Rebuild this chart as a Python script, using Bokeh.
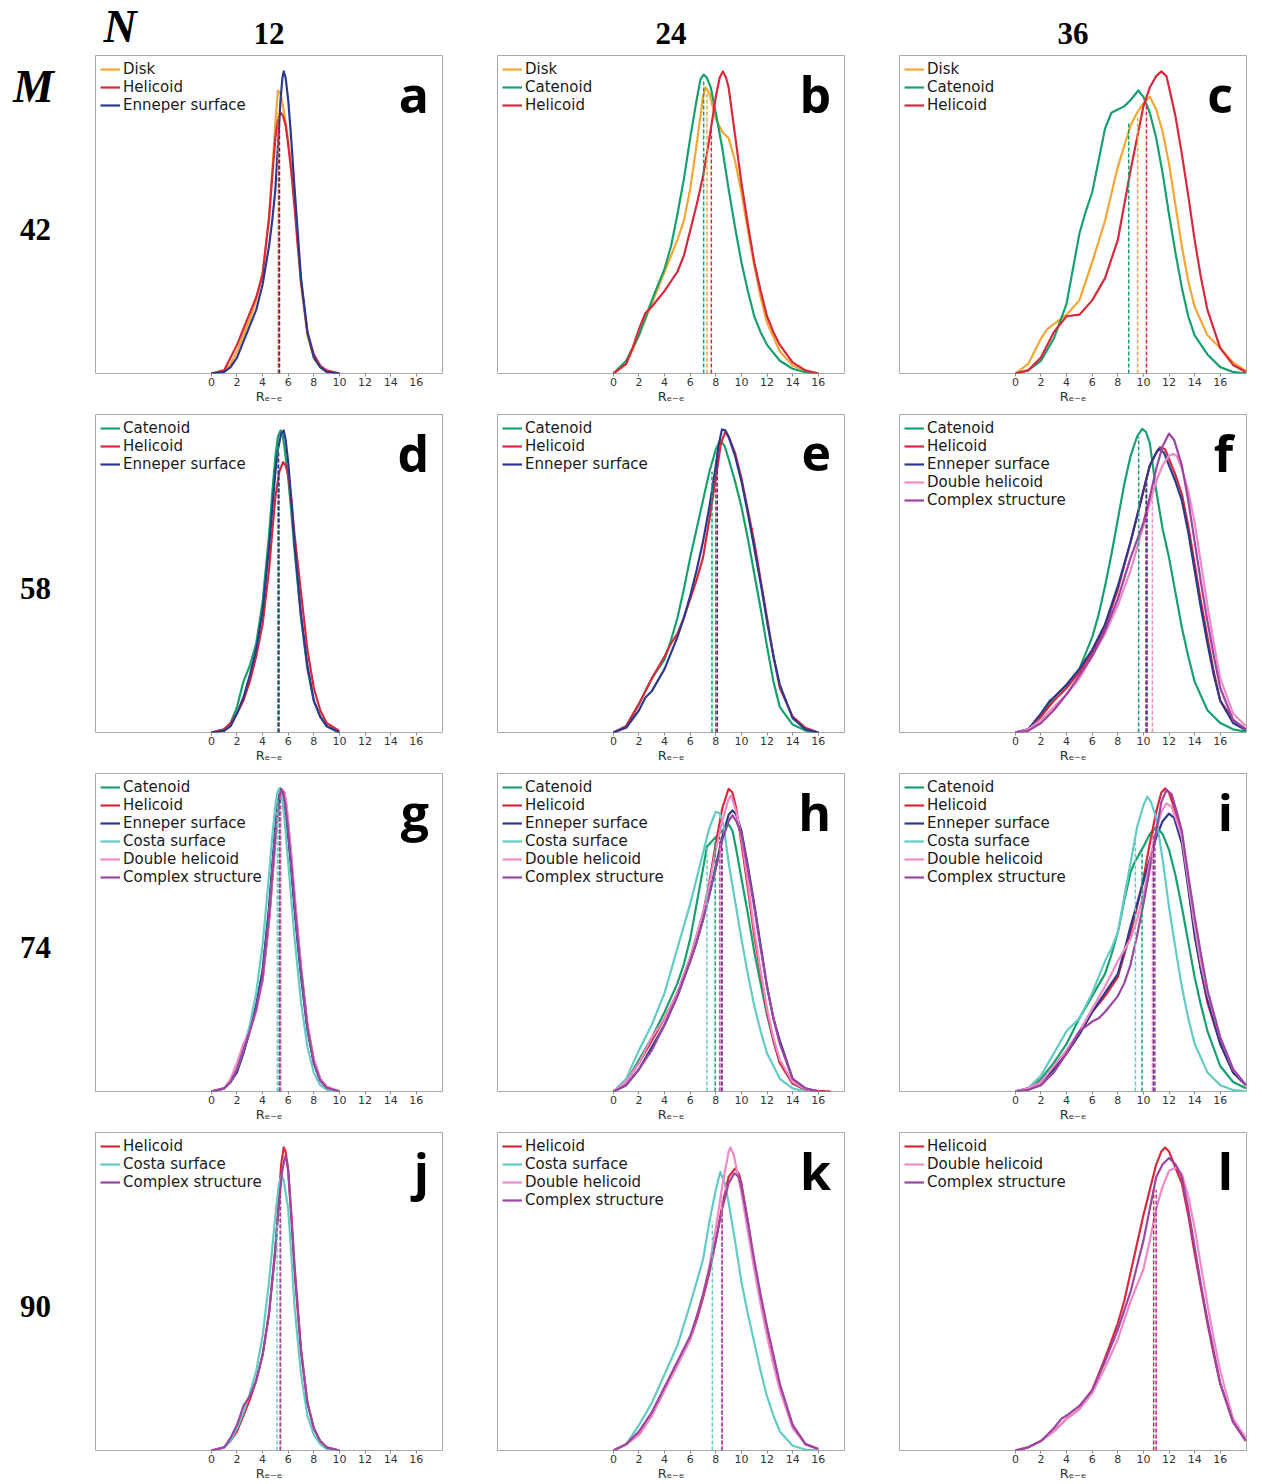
from bokeh.plotting import figure
from bokeh.models import Range1d, FixedTicker, Label, Legend, LegendItem
from bokeh.layouts import row, column
from bokeh.embed import file_html
from bokeh.resources import INLINE

# ---------------- data (y = share of panel height) ----------------
N_LABELS = ["12", "24", "36"]
M_LABELS = ["42", "58", "74", "90"]
TICKS = [0, 2, 4, 6, 8, 10, 12, 14, 16]

# panel a  (N=12, M=42)
A_DISK = [(0,0),(1,0.01),(1.5,0.03),(2,0.07),(2.5,0.12),(3,0.17),(3.5,0.23),(4,0.32),(4.5,0.48),(4.75,0.63),(5,0.79),(5.2,0.89),(5.4,0.88),(5.6,0.84),(5.8,0.79),(6,0.73),(6.25,0.65),(6.5,0.55),(6.75,0.41),(7,0.28),(7.5,0.12),(8,0.05),(8.5,0.02),(9,0.005),(10,0)]
A_HELICOID = [(0,0),(1,0.01),(1.5,0.05),(2,0.09),(2.5,0.14),(3,0.19),(3.5,0.24),(4,0.31),(4.5,0.49),(4.75,0.62),(5,0.74),(5.2,0.80),(5.4,0.82),(5.6,0.81),(5.8,0.78),(6,0.72),(6.25,0.63),(6.5,0.52),(6.75,0.40),(7,0.29),(7.5,0.13),(8,0.06),(8.5,0.025),(9,0.01),(10,0)]
A_ENNEPER = [(0,0),(1,0.005),(1.5,0.02),(2,0.05),(2.5,0.10),(3,0.15),(3.5,0.20),(4,0.28),(4.5,0.40),(4.75,0.48),(5,0.58),(5.2,0.72),(5.4,0.86),(5.55,0.93),(5.65,0.95),(5.8,0.93),(6,0.86),(6.25,0.73),(6.5,0.58),(6.75,0.44),(7,0.30),(7.5,0.13),(8,0.05),(8.5,0.02),(9,0.005),(10,0)]
A_MED = [5.22, 5.27, 5.32]
A_TOP = [0.82, 0.80, 0.80]

# panel b  (N=24, M=42)
B_DISK = [(0,0),(1,0.03),(2,0.12),(3,0.22),(4,0.32),(4.5,0.37),(5,0.42),(5.5,0.48),(6,0.58),(6.5,0.72),(7,0.87),(7.2,0.90),(7.5,0.88),(8,0.80),(8.5,0.76),(9,0.74),(9.5,0.67),(10,0.57),(10.5,0.45),(11,0.34),(11.5,0.24),(12,0.16),(13,0.07),(14,0.025),(15,0.008),(16,0)]
B_CATENOID = [(0,0),(1,0.04),(2,0.12),(3,0.23),(3.5,0.28),(4,0.33),(4.5,0.40),(5,0.50),(5.5,0.61),(6,0.74),(6.5,0.86),(6.8,0.925),(7.05,0.94),(7.3,0.93),(7.6,0.90),(8,0.82),(8.5,0.71),(9,0.58),(9.5,0.46),(10,0.35),(10.5,0.26),(11,0.18),(11.5,0.13),(12,0.09),(13,0.04),(14,0.015),(15,0.004),(16,0)]
B_HELICOID = [(0,0),(1,0.03),(1.5,0.08),(2,0.14),(2.5,0.19),(3,0.21),(4,0.26),(5,0.32),(5.5,0.37),(6,0.45),(6.5,0.53),(7,0.62),(7.5,0.74),(8,0.87),(8.3,0.93),(8.55,0.95),(8.8,0.93),(9,0.90),(9.5,0.75),(10,0.60),(10.5,0.47),(11,0.35),(11.5,0.26),(12,0.18),(12.5,0.13),(13,0.09),(14,0.035),(15,0.01),(16,0)]
B_MED = [7.31, 7.05, 7.65]
B_TOP = [0.88, 0.92, 0.78]

# panel c  (N=36, M=42)
C_DISK = [(0,0),(1,0.03),(2,0.11),(2.5,0.14),(3,0.155),(4,0.185),(5,0.23),(6,0.35),(7,0.48),(8,0.65),(9,0.78),(9.5,0.82),(10,0.85),(10.5,0.87),(11,0.83),(11.5,0.76),(12,0.66),(12.5,0.53),(13,0.40),(13.5,0.29),(14,0.21),(15,0.12),(16,0.08),(17,0.035),(18,0.008)]
C_CATENOID = [(0,0),(1,0.01),(2,0.04),(3,0.11),(4,0.22),(4.5,0.33),(5,0.44),(5.5,0.51),(6,0.57),(6.5,0.67),(7,0.77),(7.5,0.82),(8,0.83),(8.5,0.84),(9,0.86),(9.6,0.89),(10,0.87),(10.5,0.82),(11,0.74),(11.5,0.63),(12,0.50),(12.5,0.38),(13,0.27),(13.5,0.18),(14,0.12),(15,0.06),(16,0.02),(17,0.005),(18,0)]
C_HELICOID = [(0,0),(1,0.01),(2,0.05),(3,0.13),(4,0.18),(5,0.185),(6,0.23),(7,0.30),(8,0.42),(9,0.64),(10,0.84),(10.5,0.90),(11,0.935),(11.4,0.95),(11.8,0.935),(12,0.90),(12.5,0.81),(13,0.69),(13.5,0.56),(14,0.42),(14.5,0.30),(15,0.20),(16,0.08),(17,0.027),(18,0.005)]
C_MED = [9.55, 8.85, 10.24]
C_TOP = [0.81, 0.79, 0.85]

# panel d  (N=12, M=58)
D_CATENOID = [(0,0),(1,0.01),(1.5,0.03),(2,0.08),(2.5,0.16),(3,0.21),(3.5,0.28),(4,0.41),(4.5,0.62),(4.75,0.75),(5,0.87),(5.2,0.93),(5.4,0.95),(5.55,0.94),(5.7,0.90),(6,0.80),(6.25,0.69),(6.5,0.57),(7,0.36),(7.5,0.20),(8,0.10),(8.5,0.05),(9,0.02),(10,0)]
D_HELICOID = [(0,0),(1,0.01),(1.5,0.03),(2,0.06),(2.5,0.10),(3,0.16),(3.5,0.24),(4,0.34),(4.5,0.51),(4.75,0.63),(5,0.74),(5.3,0.82),(5.6,0.85),(5.8,0.84),(6,0.81),(6.25,0.73),(6.5,0.62),(6.75,0.53),(7,0.44),(7.5,0.26),(8,0.14),(8.5,0.07),(9,0.03),(10,0.005)]
D_ENNEPER = [(0,0),(1,0.005),(1.5,0.02),(2,0.06),(2.5,0.11),(3,0.18),(3.5,0.26),(4,0.38),(4.5,0.58),(4.75,0.70),(5,0.82),(5.2,0.89),(5.45,0.94),(5.65,0.95),(5.8,0.92),(6,0.85),(6.25,0.73),(6.5,0.59),(7,0.37),(7.5,0.21),(8,0.10),(8.5,0.05),(9,0.02),(10,0)]
D_MED = [5.2, 5.28, 5.25]
D_TOP = [0.90, 0.80, 0.88]

# panel e  (N=24, M=58)
E_CATENOID = [(0,0),(1,0.02),(2,0.09),(3,0.17),(4,0.23),(4.5,0.29),(5,0.36),(5.5,0.45),(6,0.55),(6.5,0.64),(7,0.73),(7.5,0.82),(8,0.89),(8.35,0.92),(8.7,0.90),(9,0.86),(9.5,0.79),(10,0.71),(10.5,0.61),(11,0.50),(11.5,0.39),(12,0.27),(12.5,0.16),(13,0.08),(14,0.025),(15,0.006),(16,0)]
E_HELICOID = [(0,0),(1,0.02),(2,0.09),(3,0.17),(4,0.24),(4.5,0.28),(5,0.31),(5.5,0.36),(6,0.42),(6.5,0.48),(7,0.55),(7.5,0.67),(8,0.80),(8.4,0.91),(8.74,0.945),(9,0.93),(9.5,0.88),(10,0.80),(10.5,0.70),(11,0.60),(11.5,0.48),(12,0.36),(12.5,0.24),(13,0.14),(14,0.05),(15,0.015),(16,0)]
E_ENNEPER = [(0,0),(1,0.015),(2,0.07),(2.5,0.11),(3,0.13),(4,0.20),(5,0.30),(5.5,0.36),(6,0.43),(6.5,0.51),(7,0.60),(7.5,0.71),(8,0.84),(8.25,0.91),(8.48,0.953),(8.75,0.95),(9,0.93),(9.5,0.87),(10,0.79),(10.5,0.69),(11,0.58),(11.5,0.47),(12,0.35),(12.5,0.24),(13,0.15),(14,0.045),(15,0.01),(16,0)]
E_MED = [7.7, 8.0, 8.11]
E_TOP = [0.82, 0.80, 0.88]

# panel f  (N=36, M=58)
F_CATENOID = [(0,0),(1,0.01),(2,0.05),(3,0.11),(4,0.15),(5,0.20),(6,0.30),(6.5,0.37),(7,0.46),(7.5,0.56),(8,0.67),(8.5,0.78),(9,0.87),(9.5,0.93),(9.9,0.955),(10.2,0.945),(10.5,0.91),(11,0.76),(11.5,0.64),(12,0.55),(12.5,0.44),(13,0.33),(13.5,0.24),(14,0.16),(15,0.07),(16,0.03),(17,0.01),(18,0.003)]
F_HELICOID = [(0,0),(1,0.01),(2,0.05),(3,0.10),(4,0.14),(5,0.19),(6,0.25),(7,0.33),(8,0.45),(9,0.60),(10,0.76),(10.5,0.84),(11,0.88),(11.3,0.897),(11.7,0.89),(12,0.86),(12.5,0.81),(13,0.75),(13.5,0.65),(14,0.53),(14.5,0.41),(15,0.30),(15.5,0.19),(16,0.10),(17,0.04),(18,0.01)]
F_ENNEPER = [(0,0),(1,0.01),(2,0.06),(2.7,0.10),(3,0.11),(4,0.15),(5,0.20),(6,0.26),(7,0.34),(8,0.46),(9,0.60),(10,0.76),(10.5,0.84),(11,0.88),(11.2,0.892),(11.6,0.88),(12,0.84),(12.5,0.79),(13,0.73),(13.5,0.63),(14,0.51),(14.5,0.39),(15,0.28),(15.5,0.18),(16,0.10),(17,0.03),(18,0.008)]
F_DOUBLE = [(0,0),(1,0.01),(2,0.04),(3,0.08),(4,0.12),(5,0.17),(6,0.24),(7,0.31),(8,0.40),(9,0.51),(10,0.65),(11,0.79),(11.5,0.84),(12,0.87),(12.3,0.876),(12.6,0.87),(13,0.83),(13.5,0.76),(14,0.66),(14.5,0.53),(15,0.40),(15.5,0.28),(16,0.17),(17,0.06),(18,0.02)]
F_COMPLEX = [(0,0),(1,0.005),(2,0.03),(3,0.07),(4,0.12),(5,0.18),(6,0.24),(7,0.32),(8,0.42),(9,0.55),(10,0.66),(10.5,0.74),(11,0.83),(11.5,0.90),(12,0.94),(12.4,0.92),(13,0.84),(13.5,0.73),(14,0.60),(14.5,0.47),(15,0.35),(15.5,0.24),(16,0.14),(17,0.04),(18,0.01)]
F_MED = [9.63, 10.2, 10.25, 10.7, 10.3]
F_TOP = [0.93, 0.78, 0.80, 0.74, 0.70]

# panel g  (N=12, M=74)
G_CATENOID = [(0,0),(1,0.01),(1.5,0.03),(2,0.07),(2.5,0.13),(3,0.20),(3.5,0.27),(4,0.38),(4.5,0.58),(4.75,0.71),(5,0.83),(5.2,0.91),(5.4,0.953),(5.55,0.94),(5.7,0.91),(6,0.80),(6.25,0.69),(6.5,0.57),(6.75,0.46),(7,0.36),(7.5,0.19),(8,0.09),(8.5,0.035),(9,0.012),(10,0)]
G_HELICOID = [(0,0),(1,0.01),(1.5,0.03),(2,0.07),(2.5,0.14),(3,0.20),(3.5,0.26),(4,0.35),(4.5,0.53),(4.75,0.66),(5,0.79),(5.25,0.90),(5.5,0.95),(5.7,0.94),(5.85,0.90),(6,0.84),(6.25,0.73),(6.5,0.61),(6.75,0.50),(7,0.39),(7.5,0.21),(8,0.10),(8.5,0.04),(9,0.015),(10,0)]
G_ENNEPER = [(0,0),(1,0.01),(1.5,0.03),(2,0.06),(2.5,0.12),(3,0.19),(3.5,0.27),(4,0.38),(4.5,0.57),(4.75,0.70),(5,0.83),(5.2,0.91),(5.45,0.95),(5.6,0.94),(5.75,0.91),(6,0.81),(6.25,0.70),(6.5,0.58),(6.75,0.47),(7,0.37),(7.5,0.20),(8,0.09),(8.5,0.035),(9,0.012),(10,0)]
G_COSTA = [(0,0),(1,0.01),(1.5,0.03),(2,0.07),(2.5,0.13),(3,0.21),(3.5,0.31),(4,0.46),(4.5,0.68),(4.75,0.80),(5,0.90),(5.15,0.94),(5.3,0.953),(5.5,0.93),(5.7,0.86),(6,0.72),(6.25,0.60),(6.5,0.48),(6.75,0.38),(7,0.28),(7.5,0.14),(8,0.06),(8.5,0.02),(9,0.006),(10,0)]
G_DOUBLE = [(0,0),(1,0.01),(1.5,0.04),(2,0.09),(2.5,0.15),(3,0.19),(3.5,0.25),(4,0.35),(4.5,0.54),(4.75,0.67),(5,0.80),(5.25,0.90),(5.5,0.95),(5.7,0.94),(5.85,0.91),(6,0.85),(6.25,0.74),(6.5,0.62),(6.75,0.50),(7,0.39),(7.5,0.21),(8,0.10),(8.5,0.04),(9,0.015),(10,0)]
G_COMPLEX = [(0,0),(1,0.01),(1.5,0.03),(2,0.07),(2.5,0.13),(3,0.19),(3.5,0.26),(4,0.36),(4.5,0.55),(4.75,0.68),(5,0.81),(5.2,0.90),(5.45,0.95),(5.6,0.94),(5.75,0.91),(6,0.82),(6.25,0.71),(6.5,0.59),(6.75,0.48),(7,0.38),(7.5,0.20),(8,0.09),(8.5,0.035),(9,0.012),(10,0)]
G_MED = [5.3, 5.4, 5.35, 5.15, 5.4, 5.35]
G_TOP = [0.92, 0.90, 0.92, 0.92, 0.90, 0.91]

# panel h  (N=24, M=74)
H_CATENOID = [(0,0),(1,0.03),(2,0.10),(3,0.17),(4,0.25),(5,0.34),(5.5,0.40),(6,0.48),(6.5,0.59),(7,0.70),(7.3,0.77),(8,0.80),(8.5,0.82),(9,0.84),(9.3,0.82),(9.6,0.76),(10,0.67),(10.5,0.56),(11,0.44),(11.5,0.34),(12,0.24),(12.5,0.16),(13,0.09),(14,0.025),(15,0.005),(16,0)]
H_HELICOID = [(0,0),(1,0.03),(2,0.09),(3,0.16),(4,0.23),(5,0.31),(6,0.42),(6.5,0.49),(7,0.56),(7.5,0.66),(8,0.78),(8.5,0.89),(9,0.952),(9.3,0.94),(9.6,0.89),(10,0.78),(10.5,0.64),(11,0.49),(11.5,0.37),(12,0.25),(12.5,0.16),(13,0.09),(14,0.025),(15,0.006),(16,0.002),(17,0)]
H_ENNEPER = [(0,0),(1,0.02),(2,0.07),(3,0.14),(4,0.21),(5,0.30),(6,0.41),(6.5,0.47),(7,0.54),(7.5,0.62),(8,0.71),(8.5,0.80),(9,0.87),(9.3,0.884),(9.6,0.87),(10,0.82),(10.5,0.71),(11,0.59),(11.5,0.46),(12,0.33),(12.5,0.23),(13,0.16),(14,0.04),(15,0.01),(16,0)]
H_COSTA = [(0,0),(1,0.04),(2,0.13),(2.5,0.17),(3,0.21),(4,0.31),(5,0.45),(6,0.59),(6.5,0.67),(7,0.75),(7.5,0.83),(8,0.88),(8.3,0.875),(8.6,0.84),(9,0.72),(9.5,0.60),(10,0.48),(10.5,0.37),(11,0.27),(11.5,0.19),(12,0.12),(13,0.04),(14,0.01),(15,0)]
H_DOUBLE = [(0,0),(1,0.03),(2,0.09),(3,0.17),(4,0.23),(5,0.31),(6,0.42),(6.5,0.49),(7,0.56),(7.5,0.65),(8,0.76),(8.5,0.85),(9,0.92),(9.2,0.93),(9.6,0.88),(10,0.80),(10.5,0.66),(11,0.51),(11.5,0.38),(12,0.26),(12.5,0.17),(13,0.10),(14,0.03),(15,0.007),(16,0)]
H_COMPLEX = [(0,0),(1,0.02),(2,0.07),(3,0.13),(4,0.21),(5,0.30),(6,0.41),(6.5,0.47),(7,0.54),(7.5,0.62),(8,0.70),(8.5,0.79),(9,0.85),(9.3,0.868),(9.6,0.85),(10,0.81),(10.5,0.70),(11,0.58),(11.5,0.45),(12,0.33),(12.5,0.23),(13,0.15),(14,0.04),(15,0.01),(16,0)]
H_MED = [7.95, 8.3, 8.45, 7.31, 8.35, 8.5]
H_TOP = [0.80, 0.80, 0.78, 0.77, 0.78, 0.77]

# panel i  (N=36, M=74)
I_CATENOID = [(0,0),(1,0.01),(2,0.04),(3,0.09),(4,0.15),(5,0.23),(6,0.30),(7,0.37),(7.5,0.43),(8,0.50),(8.5,0.60),(9,0.69),(9.3,0.72),(10,0.77),(10.5,0.81),(11,0.832),(11.5,0.81),(12,0.76),(12.5,0.68),(13,0.58),(13.5,0.47),(14,0.36),(14.5,0.27),(15,0.19),(16,0.08),(17,0.03),(18,0.01)]
I_HELICOID = [(0,0),(1,0.01),(2,0.03),(3,0.07),(4,0.12),(5,0.18),(6,0.25),(7,0.30),(8,0.36),(8.5,0.43),(9,0.50),(9.5,0.58),(10,0.67),(10.5,0.78),(11,0.88),(11.4,0.94),(11.7,0.953),(12,0.94),(12.5,0.88),(13,0.80),(13.5,0.65),(14,0.50),(14.5,0.38),(15,0.28),(16,0.15),(17,0.06),(18,0.02)]
I_ENNEPER = [(0,0),(1,0.01),(2,0.03),(3,0.07),(4,0.12),(5,0.18),(6,0.25),(7,0.31),(8,0.37),(8.5,0.44),(9,0.52),(9.5,0.59),(10,0.66),(10.5,0.73),(11,0.80),(11.5,0.85),(12,0.874),(12.4,0.86),(13,0.78),(13.5,0.64),(14,0.49),(14.5,0.38),(15,0.29),(16,0.15),(17,0.06),(18,0.02)]
I_COSTA = [(0,0),(1,0.01),(2,0.05),(3,0.12),(4,0.19),(5,0.23),(6,0.31),(7,0.41),(7.5,0.45),(8,0.50),(8.5,0.61),(9,0.72),(9.5,0.83),(10,0.90),(10.3,0.927),(10.6,0.91),(11,0.86),(11.5,0.73),(12,0.58),(12.5,0.45),(13,0.33),(13.5,0.23),(14,0.15),(15,0.06),(16,0.02),(17,0.005),(18,0)]
I_DOUBLE = [(0,0),(1,0.01),(2,0.03),(3,0.08),(4,0.13),(5,0.19),(6,0.26),(7,0.33),(8,0.41),(9,0.48),(9.5,0.54),(10,0.62),(10.5,0.72),(11,0.82),(11.4,0.88),(11.8,0.906),(12.2,0.895),(12.6,0.85),(13,0.80),(13.5,0.66),(14,0.52),(14.5,0.40),(15,0.31),(16,0.17),(17,0.07),(18,0.02)]
I_COMPLEX = [(0,0),(1,0.005),(2,0.02),(3,0.06),(4,0.12),(5,0.19),(6,0.22),(6.5,0.23),(7,0.25),(8,0.30),(8.5,0.34),(9,0.40),(9.5,0.49),(10,0.59),(10.5,0.70),(11,0.82),(11.4,0.91),(11.8,0.948),(12.2,0.935),(12.6,0.88),(13,0.82),(13.5,0.68),(14,0.55),(14.5,0.43),(15,0.32),(16,0.17),(17,0.07),(18,0.02)]
I_MED = [9.89, 10.75, 10.8, 9.37, 10.7, 10.9]
I_TOP = [0.76, 0.82, 0.78, 0.80, 0.80, 0.78]

# panel j  (N=12, M=90)
J_HELICOID = [(0,0),(1,0.01),(1.5,0.03),(2,0.06),(2.5,0.11),(3,0.16),(3.5,0.22),(4,0.30),(4.5,0.43),(5,0.63),(5.25,0.78),(5.45,0.90),(5.65,0.953),(5.8,0.94),(6,0.88),(6.25,0.73),(6.5,0.56),(7,0.31),(7.5,0.15),(8,0.07),(8.5,0.03),(9,0.01),(10,0)]
J_COSTA = [(0,0),(1,0.01),(1.5,0.03),(2,0.07),(2.5,0.12),(3,0.18),(3.5,0.25),(4,0.36),(4.5,0.53),(5,0.74),(5.25,0.83),(5.45,0.864),(5.65,0.85),(6,0.76),(6.25,0.61),(6.5,0.45),(7,0.24),(7.5,0.11),(8,0.05),(8.5,0.02),(9,0.005),(10,0)]
J_COMPLEX = [(0,0),(1,0.01),(1.5,0.04),(2,0.08),(2.5,0.14),(3,0.17),(3.5,0.22),(4,0.30),(4.5,0.43),(5,0.64),(5.25,0.76),(5.5,0.87),(5.75,0.925),(5.9,0.91),(6,0.88),(6.25,0.74),(6.5,0.58),(7,0.32),(7.5,0.15),(8,0.07),(8.5,0.03),(9,0.01),(10,0)]
J_MED = [5.38, 5.13, 5.4]
J_TOP = [0.82, 0.72, 0.80]

# panel k  (N=24, M=90)
K_HELICOID = [(0,0),(1,0.02),(2,0.05),(3,0.11),(4,0.19),(5,0.27),(6,0.35),(6.5,0.41),(7,0.48),(7.5,0.56),(8,0.66),(8.5,0.77),(9,0.86),(9.5,0.887),(9.8,0.87),(10,0.84),(10.5,0.72),(11,0.58),(11.5,0.47),(12,0.37),(12.5,0.28),(13,0.20),(14,0.08),(15,0.02),(16,0.005)]
K_COSTA = [(0,0),(1,0.02),(2,0.08),(3,0.15),(4,0.24),(5,0.33),(6,0.46),(6.5,0.53),(7,0.60),(7.5,0.72),(8,0.82),(8.35,0.876),(8.7,0.84),(9,0.78),(9.5,0.66),(10,0.53),(10.5,0.43),(11,0.34),(11.5,0.25),(12,0.17),(12.5,0.11),(13,0.06),(14,0.015),(15,0.003),(16,0)]
K_DOUBLE = [(0,0),(1,0.02),(2,0.05),(3,0.11),(4,0.19),(5,0.27),(6,0.35),(6.5,0.42),(7,0.49),(7.5,0.58),(8,0.70),(8.5,0.83),(9,0.94),(9.15,0.953),(9.4,0.93),(10,0.81),(10.5,0.69),(11,0.57),(11.5,0.46),(12,0.36),(12.5,0.27),(13,0.19),(14,0.07),(15,0.02),(16,0.005)]
K_COMPLEX = [(0,0),(1,0.02),(2,0.06),(3,0.12),(4,0.20),(5,0.28),(6,0.36),(6.5,0.42),(7,0.49),(7.5,0.57),(8,0.66),(8.5,0.76),(9,0.84),(9.45,0.872),(9.8,0.86),(10,0.83),(10.5,0.72),(11,0.60),(11.5,0.49),(12,0.39),(12.5,0.30),(13,0.21),(14,0.08),(15,0.02),(16,0.005)]
K_MED = [8.46, 7.73, 8.46, 8.5]
K_TOP = [0.76, 0.72, 0.80, 0.75]

# panel l  (N=36, M=90)
L_HELICOID = [(0,0),(1,0.01),(2,0.03),(3,0.06),(4,0.10),(5,0.13),(6,0.19),(7,0.29),(8,0.40),(8.5,0.47),(9,0.56),(9.5,0.65),(10,0.74),(10.5,0.82),(11,0.90),(11.4,0.94),(11.7,0.953),(12,0.94),(12.5,0.89),(13,0.84),(13.5,0.74),(14,0.62),(14.5,0.51),(15,0.40),(15.5,0.30),(16,0.21),(17,0.09),(18,0.03)]
L_DOUBLE = [(0,0),(1,0.01),(2,0.03),(3,0.06),(4,0.10),(5,0.13),(6,0.18),(7,0.26),(8,0.35),(9,0.47),(9.5,0.52),(10,0.57),(10.5,0.66),(11,0.76),(11.5,0.83),(12,0.88),(12.6,0.89),(13,0.87),(13.5,0.80),(14,0.70),(14.5,0.58),(15,0.46),(15.5,0.35),(16,0.25),(17,0.10),(18,0.04)]
L_COMPLEX = [(0,0),(1,0.01),(2,0.03),(3,0.07),(3.6,0.10),(4,0.11),(5,0.14),(6,0.19),(7,0.28),(8,0.38),(8.5,0.44),(9,0.50),(9.5,0.58),(10,0.66),(10.5,0.76),(11,0.86),(11.5,0.90),(12,0.92),(12.5,0.90),(13,0.86),(13.5,0.76),(14,0.64),(14.5,0.52),(15,0.41),(15.5,0.31),(16,0.21),(17,0.09),(18,0.03)]
L_MED = [10.8, 11.0, 11.0]
L_TOP = [0.82, 0.76, 0.82]

COLORS = {
    "Disk": "#f3a633",
    "Catenoid": "#17a06c",
    "Helicoid": "#d8283c",
    "Enneper surface": "#2d3a8c",
    "Costa surface": "#62cbc4",
    "Double helicoid": "#f089c6",
    "Complex structure": "#9a46a2",
}

PANELS = [
    ("a", ["Disk", "Helicoid", "Enneper surface"], [A_DISK, A_HELICOID, A_ENNEPER], A_MED, A_TOP),
    ("b", ["Disk", "Catenoid", "Helicoid"], [B_DISK, B_CATENOID, B_HELICOID], B_MED, B_TOP),
    ("c", ["Disk", "Catenoid", "Helicoid"], [C_DISK, C_CATENOID, C_HELICOID], C_MED, C_TOP),
    ("d", ["Catenoid", "Helicoid", "Enneper surface"], [D_CATENOID, D_HELICOID, D_ENNEPER], D_MED, D_TOP),
    ("e", ["Catenoid", "Helicoid", "Enneper surface"], [E_CATENOID, E_HELICOID, E_ENNEPER], E_MED, E_TOP),
    ("f", ["Catenoid", "Helicoid", "Enneper surface", "Double helicoid", "Complex structure"],
     [F_CATENOID, F_HELICOID, F_ENNEPER, F_DOUBLE, F_COMPLEX], F_MED, F_TOP),
    ("g", ["Catenoid", "Helicoid", "Enneper surface", "Costa surface", "Double helicoid", "Complex structure"],
     [G_CATENOID, G_HELICOID, G_ENNEPER, G_COSTA, G_DOUBLE, G_COMPLEX], G_MED, G_TOP),
    ("h", ["Catenoid", "Helicoid", "Enneper surface", "Costa surface", "Double helicoid", "Complex structure"],
     [H_CATENOID, H_HELICOID, H_ENNEPER, H_COSTA, H_DOUBLE, H_COMPLEX], H_MED, H_TOP),
    ("i", ["Catenoid", "Helicoid", "Enneper surface", "Costa surface", "Double helicoid", "Complex structure"],
     [I_CATENOID, I_HELICOID, I_ENNEPER, I_COSTA, I_DOUBLE, I_COMPLEX], I_MED, I_TOP),
    ("j", ["Helicoid", "Costa surface", "Complex structure"], [J_HELICOID, J_COSTA, J_COMPLEX], J_MED, J_TOP),
    ("k", ["Helicoid", "Costa surface", "Double helicoid", "Complex structure"],
     [K_HELICOID, K_COSTA, K_DOUBLE, K_COMPLEX], K_MED, K_TOP),
    ("l", ["Helicoid", "Double helicoid", "Complex structure"], [L_HELICOID, L_DOUBLE, L_COMPLEX], L_MED, L_TOP),
]

# ---------------- layout geometry ----------------
LEFT_W = 94
HEAD_H = 55
FRAME_W = 347
FRAME_H = 318
COL_GAP = 54
ROW_GAP = 41
LAST_BOTTOM = 33
X_RANGE = (-9.05, 18.05)


def make_panel(letter, names, curves, meds, tops, col, rowi):
    right = COL_GAP if col < 2 else 8
    bottom = ROW_GAP if rowi < 3 else LAST_BOTTOM
    p = figure(width=1 + FRAME_W + right, height=FRAME_H + bottom,
               x_range=Range1d(*X_RANGE), y_range=Range1d(0, 1.0),
               output_backend="svg", toolbar_location=None, y_axis_location=None,
               min_border_left=1, min_border_right=right, min_border_top=0,
               min_border_bottom=bottom)
    p.grid.visible = False
    p.outline_line_color = "#a9a9a9"
    p.outline_line_width = 1
    ax = p.xaxis[0]
    ax.ticker = FixedTicker(ticks=TICKS)
    ax.axis_line_color = None
    ax.major_tick_out = 3
    ax.major_tick_in = 0
    ax.major_tick_line_color = "#8a8a8a"
    ax.minor_tick_line_color = None
    ax.major_label_text_font = "DejaVu Sans"
    ax.major_label_text_font_size = "11px"
    ax.major_label_text_color = "#333333"
    ax.major_label_standoff = 1
    ax.axis_label = "R\u2091\u208b\u2091"
    ax.axis_label_text_font = "DejaVu Sans"
    ax.axis_label_text_font_size = "13px"
    ax.axis_label_text_font_style = "normal"
    ax.axis_label_text_color = "#333333"
    ax.axis_label_standoff = 0

    items = []
    for name, pts in zip(names, curves):
        xs = [q[0] for q in pts]
        ys = [q[1] for q in pts]
        r = p.line(xs, ys, line_color=COLORS[name], line_width=2.2, line_join="round")
        items.append(LegendItem(label=name, renderers=[r]))
    for name, mx, top in zip(names, meds, tops):
        p.segment(x0=[mx], y0=[0], x1=[mx], y1=[top], line_color=COLORS[name],
                  line_width=1.5, line_dash="4 2")

    legend = Legend(items=items, location="top_left", border_line_color=None,
                    background_fill_alpha=0, label_text_font="DejaVu Sans",
                    label_text_font_size="15px", label_text_color="#1a1a1a",
                    glyph_width=20, glyph_height=18, label_height=18, spacing=0,
                    padding=0, margin=5, label_standoff=3)
    p.add_layout(legend)
    p.add_layout(Label(x=17.0, y=0.878, text=letter, text_align="right",
                       text_baseline="middle", text_font="Open Sans",
                       text_font_style="bold", text_font_size="50px", text_color="black"))
    return p


panels = []
for idx, (letter, names, curves, meds, tops) in enumerate(PANELS):
    panels.append(make_panel(letter, names, curves, meds, tops, idx % 3, idx // 3))

grid_w = 2 * (1 + FRAME_W + COL_GAP) + (1 + FRAME_W + 8)
total_h = HEAD_H + 3 * (FRAME_H + ROW_GAP) + FRAME_H + LAST_BOTTOM

# header with N and column labels
head = figure(width=grid_w, height=HEAD_H, x_range=Range1d(0, grid_w), y_range=Range1d(HEAD_H, 0),
              output_backend="svg", toolbar_location=None, x_axis_location=None, y_axis_location=None,
              min_border=0)
head.grid.visible = False
head.outline_line_color = None
head.add_layout(Label(x=9, y=26, text="N", text_font="Liberation Serif", text_font_style="bold italic",
                      text_font_size="46px", text_baseline="middle", text_color="black"))
for c, lab in enumerate(N_LABELS):
    cx = 1 + FRAME_W / 2 + c * (1 + FRAME_W + COL_GAP)
    head.add_layout(Label(x=cx, y=33, text=lab, text_font="Liberation Serif", text_font_style="bold",
                          text_font_size="31px", text_align="center", text_baseline="middle",
                          text_color="black"))

# left column with M and row labels
left = figure(width=LEFT_W, height=total_h, x_range=Range1d(0, LEFT_W), y_range=Range1d(total_h, 0),
              output_backend="svg", toolbar_location=None, x_axis_location=None, y_axis_location=None,
              min_border=0)
left.grid.visible = False
left.outline_line_color = None
left.add_layout(Label(x=33, y=86, text="M", text_font="Liberation Serif", text_font_style="bold italic",
                      text_font_size="46px", text_align="center", text_baseline="middle",
                      text_color="black"))
for r, lab in enumerate(M_LABELS):
    cy = HEAD_H + r * (FRAME_H + ROW_GAP) + FRAME_H / 2 + 15
    left.add_layout(Label(x=35, y=cy, text=lab, text_font="Liberation Serif", text_font_style="bold",
                          text_font_size="31px", text_align="center", text_baseline="middle",
                          text_color="black"))

rows = [row(*panels[i * 3:(i + 1) * 3]) for i in range(4)]
layout = row(left, column(head, *rows))

open("out.html", "w").write(file_html(layout, INLINE))
